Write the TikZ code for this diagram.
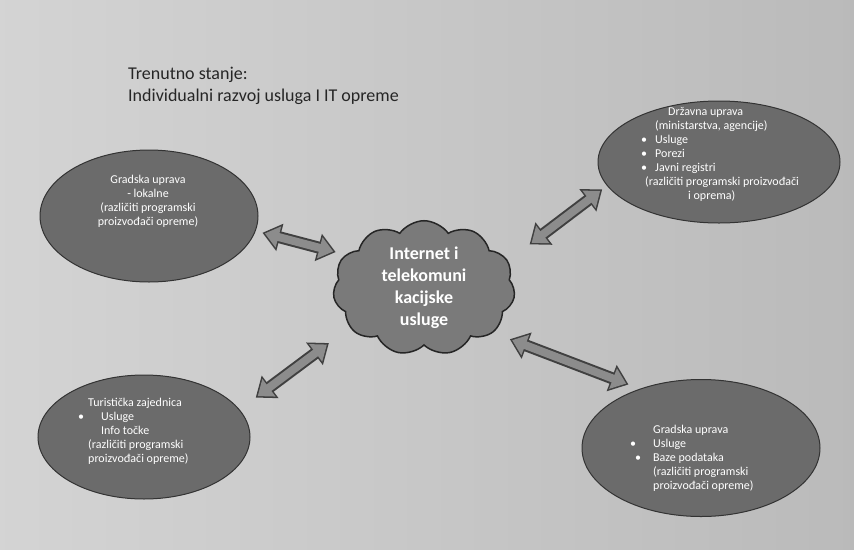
\documentclass[tikz,border=0pt]{standalone}
\usepackage{fontspec}
\setmainfont{Carlito}
\usetikzlibrary{positioning,shapes.geometric,shapes.symbols,arrows.meta}

\tikzset{
  area/.style={ellipse, draw=black!80, fill=black!58, line width=1pt, inner sep=0pt},
  areatext/.style={text=white, inner sep=0pt, font=\fontsize{12}{14}\selectfont},
  net/.style={cloud, cloud puffs=11, cloud puff arc=110, aspect=1.4, draw=black!85,
    fill=black!52, line width=1.5pt, minimum width=182pt, minimum height=130pt,
    inner sep=0pt, text=white, align=center, font=\fontsize{18}{22}\selectfont\bfseries},
  linkout/.style={line width=12pt, black!75, {Triangle[width=27pt,length=18pt]}-{Triangle[width=27pt,length=18pt]}},
  linkin/.style={line width=8pt, black!45, {Triangle[width=21pt,length=14pt]}-{Triangle[width=21pt,length=14pt]}}
}
\newcommand{\stavka}{\makebox[14pt][l]{\textbullet}}

\begin{document}
\begin{tikzpicture}[x=1pt,y=-1pt]
  \useasboundingbox (0,0) rectangle (854,549);
  \shade[left color=black!17, right color=black!27] (0,0) rectangle (854,549);

  \node[anchor=north west, inner sep=0pt, align=left, text=black!85,
        font=\fontsize{18}{22}\selectfont] (naslov) at (128,67)
        {Trenutno stanje:\\Individualni razvoj usluga I IT opreme};

  \node[area, minimum width=218pt, minimum height=132pt] (gradska)    at (149,216) {};
  \node[area, minimum width=242pt, minimum height=122pt] (drzavna)    at (719,162) {};
  \node[area, minimum width=212pt, minimum height=124pt] (turisticka) at (144,437) {};
  \node[area, minimum width=238pt, minimum height=137pt] (gradskab)   at (701,448) {};

  \node[net] (net) at (424,288) {Internet i\\telekomuni\\kacijske\\usluge};

  \node[areatext, align=center] (gradskatxt) at (148,201)
        {Gradska uprava\\- lokalne\\(različiti programski\\proizvođači opreme)};
  \node[areatext, align=left, anchor=west] (drzavnatxt) at (641,154)
        {\hspace*{27pt}Državna uprava\\\hspace*{14pt}(ministarstva, agencije)\\
         \stavka Usluge\\\stavka Porezi\\\stavka Javni registri\\
         \hspace*{4pt}(različiti programski proizvođači\\\hspace*{47pt}i oprema)};
  \node[areatext, align=left, anchor=west] (turistickatxt) at (78,431)
        {\hspace*{10pt}Turistička zajednica\\\makebox[23pt][l]{\textbullet}Usluge\\
         \hspace*{23pt}Info točke\\\hspace*{10pt}(različiti programski\\
         \hspace*{10pt}proizvođači opreme)};
  \node[areatext, align=left, anchor=west] (gradskabtxt) at (630,458)
        {\hspace*{23pt}Gradska uprava\\\makebox[23pt][l]{\textbullet}Usluge\\
         \makebox[23pt][l]{\hspace*{5pt}\textbullet}Baze podataka\\
         \hspace*{23pt}(različiti programski\\\hspace*{23pt}proizvođači opreme)};

  \path[linkout]
  (net.157) edge [shorten <=10pt, shorten >=7pt]  (gradska.-8)
  (net.18)  edge [shorten <=27pt, shorten >=6pt]  (drzavna.192)
  (net.208) edge [shorten <=26pt, shorten >=20pt] (turisticka.16)
  (net.-33) edge [shorten <=18pt, shorten >=12pt] (gradskab.136);
  \path[linkin]
  (net.157) edge [shorten <=12.5pt, shorten >=9.5pt]  (gradska.-8)
  (net.18)  edge [shorten <=29.5pt, shorten >=8.5pt]  (drzavna.192)
  (net.208) edge [shorten <=28.5pt, shorten >=22.5pt] (turisticka.16)
  (net.-33) edge [shorten <=20.5pt, shorten >=14.5pt] (gradskab.136);
\end{tikzpicture}
\end{document}
